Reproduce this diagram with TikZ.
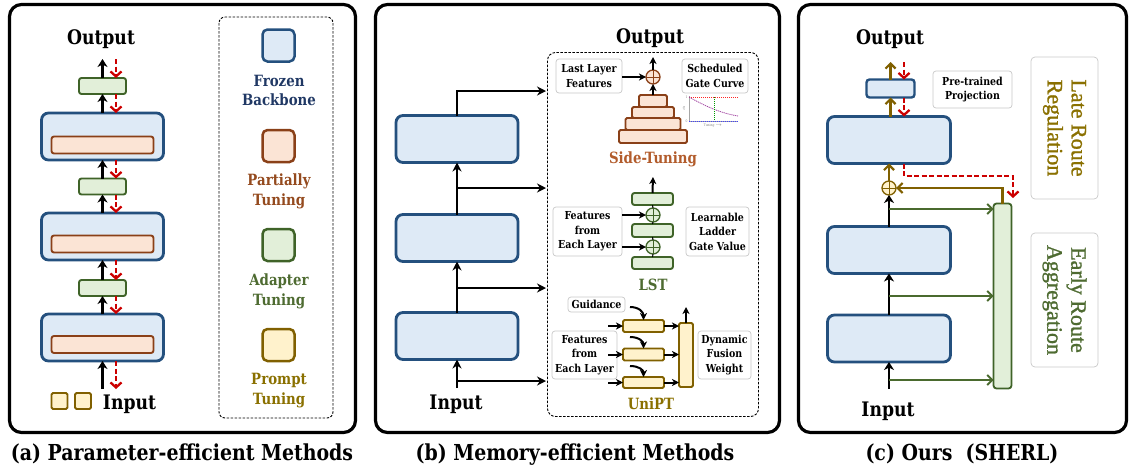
\documentclass[tikz,border=0pt]{standalone}
\usepackage{fontspec}
\setmainfont{DejaVu Serif}[FakeStretch=0.86]
\newfontfamily\rotf{Liberation Serif}[FakeBold=1.2]
\usetikzlibrary{arrows.meta,calc}
\definecolor{bfill}{HTML}{DEEAF6}
\definecolor{bdraw}{HTML}{24507E}
\definecolor{ofill}{HTML}{FBE4D5}
\definecolor{odraw}{HTML}{8A4018}
\definecolor{gfill}{HTML}{E2EFD9}
\definecolor{gdraw}{HTML}{3F6328}
\definecolor{yfill}{HTML}{FFF2CC}
\definecolor{ydraw}{HTML}{806000}
\definecolor{tblue}{HTML}{203864}
\definecolor{torange}{HTML}{944A1E}
\definecolor{tside}{HTML}{B25C2C}
\definecolor{tgreen}{HTML}{4E6B31}
\definecolor{tyellow}{HTML}{8A7000}
\definecolor{rdash}{HTML}{CC0000}
\definecolor{olivec}{HTML}{806000}
\definecolor{garr}{HTML}{4A6A2E}
\definecolor{lbox}{HTML}{C8C8C8}
\begin{document}
\begin{tikzpicture}[x=1pt,y=-1pt,
  every node/.style={inner sep=0pt, outer sep=0pt},
  frame/.style={draw=black, line width=3.2pt, rounded corners=12pt},
  blk/.style={draw=bdraw, fill=bfill, line width=2.8pt, rounded corners=7pt, minimum width=122pt, minimum height=47pt},
  orgbar/.style={draw=odraw, fill=ofill, line width=1.9pt, rounded corners=2.5pt, minimum width=102pt, minimum height=17pt},
  adbox/.style={draw=gdraw, fill=gfill, line width=1.9pt, rounded corners=2.5pt, minimum width=47pt, minimum height=16pt},
  sq/.style={line width=2.5pt, rounded corners=5pt, minimum size=32pt},
  lbl/.style={draw=lbox, line width=0.7pt, rounded corners=3pt, fill=white, align=center, font=\fontsize{11}{14.5}\selectfont\bfseries},
  ttl/.style={font=\fontsize{20}{24}\selectfont\bfseries, anchor=base},
  capt/.style={font=\fontsize{22}{26}\selectfont\bfseries, anchor=base},
  lgd/.style={font=\fontsize{15.5}{19.5}\selectfont\bfseries, align=center},
  mname/.style={font=\fontsize{15.5}{18}\selectfont\bfseries, anchor=base},
  rot/.style={font=\fontsize{22}{24}\rotf\selectfont, align=center, rotate=-90},
  barA/.style={draw=black, line width=2.3pt, -{Stealth[length=8pt,width=10pt,inset=2.5pt]}},
  redA/.style={draw=rdash, line width=2.3pt, dash pattern=on 5pt off 2.5pt, -{Straight Barb[length=5pt,width=11pt]}},
  st/.style={draw=black, line width=2.2pt, -{Stealth[length=9pt,width=9pt,inset=3pt]}},
  sts/.style={draw=black, line width=2pt, -{Stealth[length=7pt,width=7pt,inset=2pt]}},
  oarr/.style={draw=olivec, line width=2.2pt, -{Straight Barb[length=5pt,width=10pt]}},
  garrow/.style={draw=garr, line width=1.8pt, -{Straight Barb[length=5pt,width=10pt]}},
  oplus/.style={circle, draw=#1, line width=1.3pt, minimum size=14pt,
     path picture={\draw[#1, line width=1pt] (path picture bounding box.north) -- (path picture bounding box.south) (path picture bounding box.west) -- (path picture bounding box.east);}},
  thinl/.style={draw=black, line width=1pt},
  tiny/.style={font=\fontsize{3.5}{4}\selectfont, text=gray}
]
\useasboundingbox (0,0) rectangle (1136,467);

%================ Panel (a) ================
\draw[frame] (9.5,4.5) rectangle (355.5,432.5);
\node[ttl] (aOut) at (101,44) {Output};
\node[adbox] (ad1) at (102.5,86) {};
\node[blk] (ab1) at (102.5,136.5) {};
\node[orgbar] (ao1) at (102.5,145) {};
\node[adbox] (ad2) at (102.5,186.5) {};
\node[blk] (ab2) at (102.5,236.5) {};
\node[orgbar] (ao2) at (102.5,244) {};
\node[adbox] (ad3) at (102.5,288) {};
\node[blk] (ab3) at (102.5,337.5) {};
\node[orgbar] (ao3) at (102.5,344.5) {};
\coordinate (aTop) at (102.5,59);
\coordinate (aBot) at (102.5,389);
\draw[barA] (aBot) -- (ab3.south);
\draw[redA] ([xshift=13.5pt]ab3.south) -- ([xshift=13.5pt]aBot);
\draw[barA] (ab3.north) -- (ad3.south);
\draw[redA] ([xshift=13.5pt]ad3.south) -- ([xshift=13.5pt]ab3.north);
\draw[barA] (ad3.north) -- (ab2.south);
\draw[redA] ([xshift=13.5pt]ab2.south) -- ([xshift=13.5pt]ad3.north);
\draw[barA] (ab2.north) -- (ad2.south);
\draw[redA] ([xshift=13.5pt]ad2.south) -- ([xshift=13.5pt]ab2.north);
\draw[barA] (ad2.north) -- (ab1.south);
\draw[redA] ([xshift=13.5pt]ab1.south) -- ([xshift=13.5pt]ad2.north);
\draw[barA] (ab1.north) -- (ad1.south);
\draw[redA] ([xshift=13.5pt]ad1.south) -- ([xshift=13.5pt]ab1.north);
\draw[barA] (ad1.north) -- (aTop);
\draw[redA] ([xshift=13.5pt]aTop) -- ([xshift=13.5pt]ad1.north);
\node[draw=ydraw, fill=yfill, line width=1.8pt, rounded corners=1.5pt, minimum size=16pt] (ap1) at (59.5,401) {};
\node[draw=ydraw, fill=yfill, line width=1.8pt, rounded corners=1.5pt, minimum size=16pt] (ap2) at (83,401) {};
\node[ttl] (aIn) at (129.5,409) {Input};
% legend
\draw[line width=0.9pt, dash pattern=on 2.5pt off 1.5pt, rounded corners=6pt] (219,17) rectangle (333,418);
\node[sq, draw=bdraw, fill=bfill] (lg1) at (278.5,45.5) {};
\node[lgd, text=tblue] (lt1) at (279,90.5) {Frozen\\Backbone};
\node[sq, draw=odraw, fill=ofill] (lg2) at (278.5,146) {};
\node[lgd, text=torange] (lt2) at (279,191.5) {Partially\\Tuning};
\node[sq, draw=gdraw, fill=gfill] (lg3) at (278.5,245) {};
\node[lgd, text=tgreen] (lt3) at (279,291.5) {Adapter\\Tuning};
\node[sq, draw=ydraw, fill=yfill] (lg4) at (278.5,345) {};
\node[lgd, text=tyellow] (lt4) at (279,390.5) {Prompt\\Tuning};
\node[capt] (capA) at (182,460) {(a) Parameter-efficient Methods};

%================ Panel (b) ================
\draw[frame] (375.5,4.5) rectangle (779.5,432.5);
\node[ttl] (bOut) at (650,43) {Output};
\node[ttl] (bIn) at (456,409) {Input};
\node[blk] (bb1) at (457,139) {};
\node[blk] (bb2) at (457,238) {};
\node[blk] (bb3) at (457,336) {};
\coordinate (bInP) at (457,388);
\coordinate (br0) at (457,381);
\coordinate (br1) at (457,288);
\coordinate (br2) at (457,188);
\coordinate (be0) at (546,381);
\coordinate (be1) at (546,288);
\coordinate (be2) at (546,188);
\coordinate (be3) at (546,91);
\draw[st] (bInP) -- (bb3.south);
\draw[st] (br0) -- (be0);
\draw[st] (bb3.north) -- (bb2.south);
\draw[st] (br1) -- (be1);
\draw[st] (bb2.north) -- (bb1.south);
\draw[st] (br2) -- (be2);
\draw[st] (bb1.north) |- (be3);
\draw[line width=0.9pt, dash pattern=on 2.5pt off 1.5pt, rounded corners=8pt] (547.5,52.5) rectangle (758.5,416.5);
% Side-Tuning
\node[lbl, minimum width=66pt, minimum height=34pt] (llf) at (589,76) {Last Layer\\Features};
\node[lbl, minimum width=66pt, minimum height=34pt] (sgc) at (715,76) {Scheduled\\Gate Curve};
\node[oplus=odraw, fill=ofill] (sp) at (653,77) {};
\node[draw=odraw, fill=ofill, line width=1.8pt, rounded corners=1.5pt, minimum width=68pt, minimum height=13pt] (py4) at (653,136.5) {};
\node[draw=odraw, fill=ofill, line width=1.8pt, rounded corners=1.5pt, minimum width=55pt, minimum height=12pt] (py3) at (653,124) {};
\node[draw=odraw, fill=ofill, line width=1.8pt, rounded corners=1.5pt, minimum width=42pt, minimum height=11pt] (py2) at (653,112.5) {};
\node[draw=odraw, fill=ofill, line width=1.8pt, rounded corners=1.5pt, minimum width=28pt, minimum height=12pt] (py1) at (653,101) {};
\coordinate (sTop) at (653,57);
\draw[sts] (llf.east |- sp.west) -- (sp.west);
\draw[sts] (py1.north) -- (sp.south);
\draw[sts] (sp.north) -- (sTop);
% mini chart
\draw[gray!70, line width=0.5pt] (689,96) -- (689,121) -- (738,121);
\draw[red!85, line width=0.8pt, dash pattern=on 1.2pt off 0.8pt] (689,97) -- (738,97);
\draw[violet!75, line width=0.8pt, dash pattern=on 1.2pt off 0.8pt] (689,97) .. controls (705,106) and (720,113) .. (738,116);
\draw[green!60!black, line width=0.8pt, dash pattern=on 1.2pt off 0.8pt] (714,97) -- (714,121);
\draw[blue!75, line width=0.8pt, dash pattern=on 1.2pt off 0.8pt] (689,121) -- (738,121);
\node[tiny] (mc1) at (686.5,97) {1};
\node[tiny] (mc0) at (686.5,121) {0};
\node[tiny, rotate=90] (mca) at (684,108) {$\alpha$};
\node[tiny] (mct) at (713,125.5) {Tuning $\rightarrow$};
\node[mname, text=tside] (stn) at (653,163) {Side-Tuning};
% LST
\node[adbox, minimum width=41pt, minimum height=12pt] (l1) at (652.5,199) {};
\node[adbox, minimum width=41pt, minimum height=13pt] (l2) at (652.5,230.5) {};
\node[adbox, minimum width=41pt, minimum height=12pt] (l3) at (652.5,263) {};
\node[oplus=gdraw, fill=gfill] (lc1) at (653,215) {};
\node[oplus=gdraw, fill=gfill] (lc2) at (653,247) {};
\draw[thinl] (l2.north) -- (lc1.south);
\draw[thinl] (lc1.north) -- (l1.south);
\draw[thinl] (l3.north) -- (lc2.south);
\draw[thinl] (lc2.north) -- (l2.south);
\coordinate (lTop) at (653,177);
\draw[sts] (l1.north) -- (lTop);
\node[lbl, minimum width=69pt, minimum height=49pt] (lfl) at (587.5,231.5) {Features\\from\\Each Layer};
\node[lbl, minimum width=63pt, minimum height=49pt] (lgv) at (717.5,231.5) {Learnable\\Ladder\\Gate Value};
\draw[sts] (lfl.east |- lc1.west) -- (lc1.west);
\draw[sts] (lfl.east |- lc2.west) -- (lc2.west);
\node[mname, text=tgreen] (lstn) at (653,290) {LST};
% UniPT
\node[lbl, minimum width=57pt, minimum height=15pt] (guid) at (596.5,304.5) {Guidance};
\node[draw=ydraw, fill=yfill, line width=1.8pt, rounded corners=1.5pt, minimum width=41pt, minimum height=12pt] (u1) at (643.5,326) {};
\node[draw=ydraw, fill=yfill, line width=1.8pt, rounded corners=1.5pt, minimum width=41pt, minimum height=12pt] (u2) at (643.5,354.5) {};
\node[draw=ydraw, fill=yfill, line width=1.8pt, rounded corners=1.5pt, minimum width=41pt, minimum height=11pt] (u3) at (643.5,382.5) {};
\node[draw=ydraw, fill=yfill, line width=1.8pt, rounded corners=1.5pt, minimum width=14pt, minimum height=64pt] (ut) at (686,355) {};
\node[lbl, minimum width=65pt, minimum height=48pt] (ufl) at (584.5,355) {Features\\from\\Each Layer};
\node[lbl, minimum width=53pt, minimum height=48pt] (udw) at (724.5,355) {Dynamic\\Fusion\\Weight};
\coordinate (ug1) at (630,307);
\coordinate (ug2) at (630,337);
\coordinate (ug3) at (630,366);
\draw[sts] (ug1) .. controls +(9,0) and +(0,-8) .. (u1.north);
\draw[sts] (ug2) .. controls +(9,0) and +(0,-7) .. (u2.north);
\draw[sts] (ug3) .. controls +(9,0) and +(0,-7) .. (u3.north);
\coordinate (ui1) at (608,326);
\coordinate (ui2) at (608,354.5);
\coordinate (ui3) at (608,382.5);
\draw[sts] (ui1) -- (u1.west);
\draw[sts] (ui2) -- (u2.west);
\draw[sts] (ui3) -- (u3.west);
\draw[sts] (u1.east) -- (u1.east -| ut.west);
\draw[sts] (u2.east) -- (u2.east -| ut.west);
\draw[sts] (u3.east) -- (u3.east -| ut.west);
\coordinate (uTop) at (686,307);
\draw[sts] (ut.north) -- (uTop);
\node[mname, text=tyellow] (unin) at (651,409) {UniPT};
\node[capt] (capB) at (575,460) {(b) Memory-efficient Methods};

%================ Panel (c) ================
\draw[frame] (798.5,4.5) rectangle (1126.5,432.5);
\node[ttl] (cOut) at (890,44) {Output};
\node[ttl] (cIn) at (888,416) {Input};
\node[draw=bdraw, fill=bfill, line width=2.4pt, rounded corners=3pt, minimum width=48pt, minimum height=18pt] (pj) at (890.5,88.5) {};
\node[blk, minimum width=123pt] (cb1) at (889,140) {};
\node[blk, minimum width=123pt] (cb2) at (889,250) {};
\node[blk, minimum width=123pt] (cb3) at (889,338.5) {};
\node[oplus=olivec, fill=yfill] (cop) at (889,188) {};
\node[draw=gdraw, fill=gfill, line width=1.8pt, rounded corners=3pt, minimum width=18pt, minimum height=185pt] (gb) at (1002.5,296) {};
\coordinate (cTop) at (890.5,62);
\draw[oarr] (pj.north) -- (cTop);
\draw[redA] ([xshift=13.5pt]cTop) -- ([xshift=13.5pt]pj.north);
\draw[oarr] (pj.south |- cb1.north) -- (pj.south);
\draw[redA] ([xshift=13.5pt]pj.south) -- ([xshift=13.5pt]pj.south |- cb1.north);
\draw[oarr] (cop.north) -- (cop.north |- cb1.south);
\draw[oarr] (gb.north) |- (cop.east);
\coordinate (rc) at (1013,176);
\coordinate (rend) at (1013,198);
\draw[redA] ([xshift=15pt]cb1.south) |- (rc) -- (rend);
\draw[barA] (cb2.north) -- (cop.south);
\draw[barA] (cb3.north) -- (cb2.south);
\coordinate (cInP) at (889,389);
\draw[barA] (cInP) -- (cb3.south);
\coordinate (cg1) at (889,209);
\coordinate (cg2) at (889,296);
\coordinate (cg3) at (889,380);
\draw[garrow] (cg1) -- (cg1 -| gb.west);
\draw[garrow] (cg2) -- (cg2 -| gb.west);
\draw[garrow] (cg3) -- (cg3 -| gb.west);
\node[lbl, minimum width=79pt, minimum height=37pt] (ptp) at (972.5,89.5) {Pre-trained\\Projection};
\node[draw=lbox, line width=0.7pt, rounded corners=4pt, minimum width=67pt, minimum height=142pt] (lrb) at (1064.5,128) {};
\node[rot, text=tyellow] (lrt) at (1064.5,128) {Late Route\\Regulation};
\node[draw=lbox, line width=0.7pt, rounded corners=4pt, minimum width=67pt, minimum height=134pt] (erb) at (1064.5,300) {};
\node[rot, text=tgreen] (ert) at (1064.5,300) {Early Route\\Aggregation};
\node[capt] (capC) at (962,460) {(c) Ours~~(SHERL)};
\end{tikzpicture}
\end{document}
